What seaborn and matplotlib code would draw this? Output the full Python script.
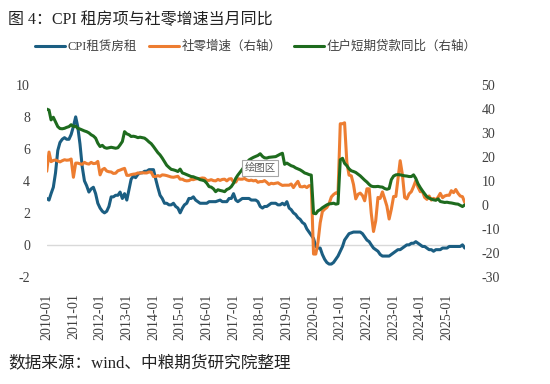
import matplotlib
matplotlib.use('Agg')
import matplotlib.pyplot as plt
import matplotlib.dates as mdates
from matplotlib.lines import Line2D
import seaborn as sns
import pandas as pd

# CPI 租赁房租 (left axis), monthly from 2010-01
rent = [
    2.9, 2.8, 3.2, 3.6, 4.5, 5.9, 6.4, 6.6, 6.7, 6.6, 6.6, 6.9,
    7.4, 8.0, 7.4, 6.3, 4.9, 4.0, 3.7, 3.3, 3.5, 3.6, 3.2, 2.6,
    2.3, 2.1, 2.0, 2.1, 2.4, 3.0, 3.0, 3.1, 3.1, 3.3, 2.9, 3.2,
    2.8, 3.5, 4.1, 4.3, 4.2, 4.4, 4.5, 4.5, 4.6, 4.6, 4.7, 4.7,
    4.7, 4.1, 3.6, 3.1, 2.9, 2.6, 2.6, 2.5, 2.5, 2.6, 2.4, 2.3,
    2.0, 2.3, 2.5, 2.6, 2.9, 2.9, 3.0, 2.8, 2.7, 2.6, 2.6, 2.6,
    2.6, 2.7, 2.7, 2.7, 2.7, 2.75, 2.8, 2.7, 2.7, 2.7, 2.9, 2.9,
    3.2, 2.8, 2.7, 2.8, 2.9, 2.9, 2.9, 2.9, 2.8, 2.8, 2.8, 2.7,
    2.4, 2.3, 2.4, 2.4, 2.5, 2.6, 2.6, 2.6, 2.5, 2.5, 2.6, 2.5,
    2.7, 2.3, 2.2, 2.0, 1.9, 1.7, 1.6, 1.4, 1.3, 1.0, 0.8, 0.6,
    0.4, -0.1, -0.2, -0.2, -0.6, -0.9, -1.1, -1.2, -1.2, -1.1, -0.9, -0.7,
    -0.4, -0.1, 0.3, 0.5, 0.7, 0.75, 0.8, 0.8, 0.8, 0.8, 0.7, 0.5,
    0.3, 0.2, 0.0, -0.2, -0.3, -0.4, -0.6, -0.7, -0.7, -0.7, -0.7, -0.6,
    -0.5, -0.4, -0.3, -0.3, -0.2, -0.1, 0.0, 0.0, 0.1, 0.1, 0.2, 0.1,
    0.0, -0.1, -0.1, -0.2, -0.3, -0.3, -0.4, -0.3, -0.3, -0.3, -0.2, -0.2,
    -0.2, -0.1, -0.1, -0.1, -0.1, -0.1, -0.1, 0.0, -0.2,
]

# 社零增速 (right axis)
retail = [
    14.0, 22.0, 18.0, 18.5, 18.7, 18.3, 17.9, 18.4, 18.8, 18.6, 18.7, 19.1,
    11.5, 17.4, 17.4, 17.1, 16.9, 17.7, 17.2, 17.0, 17.7, 17.2, 17.3, 18.1,
    12.5, 14.7, 15.2, 14.1, 13.8, 13.7, 13.1, 13.2, 14.2, 14.5, 14.9, 15.2,
    12.3, 12.3, 12.6, 12.8, 12.9, 13.3, 13.2, 13.4, 13.3, 13.3, 13.7, 13.6,
    11.8, 11.8, 12.2, 11.9, 12.5, 12.4, 12.2, 11.9, 11.6, 11.5, 11.7, 11.9,
    10.7, 10.7, 10.2, 10.0, 10.1, 10.6, 10.5, 10.8, 10.9, 11.0, 11.2, 11.1,
    10.2, 10.2, 10.5, 10.1, 10.0, 10.6, 10.2, 10.6, 10.7, 10.0, 10.8, 10.9,
    9.5, 9.5, 10.9, 10.7, 10.7, 11.0, 10.4, 10.1, 10.3, 10.0, 10.2, 9.4,
    9.7, 9.7, 10.1, 9.4, 8.5, 9.0, 8.8, 9.0, 9.2, 8.6, 8.1, 8.2,
    8.2, 8.2, 8.7, 7.2, 8.6, 9.8, 7.6, 7.5, 7.8, 7.2, 8.0, 8.0,
    -20.5, -20.5, -15.8, -7.5, -2.8, -1.8, -1.1, 0.5, 3.3, 4.3, 5.0, 4.6,
    33.8, 33.8, 34.2, 17.7, 12.4, 12.1, 8.5, 2.5, 4.4, 4.9, 3.9, 1.7,
    6.7, 6.7, -3.5, -11.1, -6.7, 3.1, 2.7, 5.4, 2.5, -0.5, -5.9, -1.8,
    3.5, 3.5, 10.6, 18.4, 12.7, 3.1, 2.5, 4.6, 5.5, 7.6, 10.1, 7.4,
    5.5, 5.5, 3.1, 2.3, 3.7, 2.0, 2.7, 2.1, 3.2, 4.8, 3.0, 3.7,
    4.0, 4.0, 5.9, 5.1, 6.4, 4.8, 3.7, 3.4, 1.0,
]

# 住户短期贷款同比 (right axis)
loan = [
    39.9, 39.5, 35.4, 36.5, 34.6, 32.6, 31.8, 31.7, 31.9, 32.3, 32.6, 33.4,
    32.6, 32.8, 31.9, 31.6, 31.2, 30.8, 30.5, 30.0, 29.2, 28.7, 27.8, 25.7,
    24.3, 24.8, 23.9, 23.6, 23.8, 24.0, 23.8, 23.6, 23.8, 25.0, 26.4, 30.5,
    29.6, 29.2, 28.5, 28.6, 28.4, 28.0, 28.2, 28.0, 27.8, 27.1, 26.2, 25.5,
    24.3, 23.0, 21.8, 20.8, 19.5, 18.0, 16.5, 15.6, 14.8, 14.6, 14.3, 13.9,
    14.9, 13.3, 13.0, 12.6, 12.2, 11.8, 11.7, 11.3, 11.0, 10.5, 10.3, 10.0,
    9.0, 7.6, 7.4, 6.7, 5.5, 6.3, 6.0, 5.8, 5.5, 6.4, 6.8, 7.6,
    9.0, 11.1, 12.4, 13.6, 14.8, 16.2, 17.5, 18.7, 19.3, 19.8, 20.2, 20.6,
    21.3, 20.2, 19.6, 19.5, 19.8, 19.9, 20.0, 20.1, 20.6, 21.1, 21.5, 16.9,
    17.4, 16.8, 16.3, 16.0, 15.4, 15.0, 14.6, 14.0, 13.3, 13.0, 12.6, 12.4,
    -3.5, -3.7, -2.5, -2.0, -1.2, -0.6, 0.0, 0.4, 0.5, 0.7, 0.3, 0.5,
    18.8, 19.4, 17.3, 16.3, 15.0, 14.2, 13.9, 13.5, 12.8, 12.1, 11.2, 10.3,
    9.5, 8.5, 7.8, 7.6, 7.6, 7.7, 7.5, 7.4, 6.8, 6.5, 6.8, 10.5,
    12.0, 12.5, 12.6, 12.5, 12.3, 12.1, 12.0, 11.8, 11.8, 12.5, 11.0, 8.8,
    7.2, 5.8, 4.6, 3.4, 2.8, 2.4, 2.1, 1.9, 2.5, 1.4, 1.2, 1.0,
    1.1, 0.9, 0.8, 0.6, 0.4, 0.3, -0.2, -0.7, 0.0,
]

labels = ['CPI租赁房租', '社零增速（右轴）', '住户短期贷款同比（右轴）']
colors = ['#1B5E82', '#ED7D31', '#1E6B1E']

dates = pd.date_range('2010-01-01', periods=len(rent), freq='MS')
df = pd.DataFrame({'date': dates, 'rent': rent, 'retail': retail, 'loan': loan})

sns.set_theme(style='white')
plt.rcParams['font.family'] = ['Liberation Serif', 'Noto Sans CJK SC']
plt.rcParams['axes.unicode_minus'] = False
txt = '#404040'

fig = plt.figure(figsize=(5.5, 3.84), dpi=100)
ax = fig.add_axes([0.085, 0.279, 0.76, 0.5])
ax.axhline(0, color='#d9d9d9', lw=1, zorder=0)
sns.lineplot(data=df, x='date', y='rent', ax=ax, color=colors[0], lw=2.2)

ax2 = ax.twinx()
sns.lineplot(data=df, x='date', y='retail', ax=ax2, color=colors[1], lw=2.2)
sns.lineplot(data=df, x='date', y='loan', ax=ax2, color=colors[2], lw=2.2)

ax.set_ylim(-2, 10)
ax.set_yticks(range(-2, 11, 2))
ax2.set_ylim(-30, 50)
ax2.set_yticks(range(-30, 51, 10))
ax.set_xlim(dates[0], dates[-1])
ax.set_xticks(pd.date_range('2010-01-01', '2025-01-01', freq='YS'))
ax.xaxis.set_major_formatter(mdates.DateFormatter('%Y-%m'))

for a in (ax, ax2):
    a.set_xlabel('')
    a.set_ylabel('')
    for s in a.spines.values():
        s.set_visible(False)
ax.tick_params(axis='x', rotation=90, length=0, pad=12, labelsize=10, colors=txt)
ax.tick_params(axis='y', length=0, pad=12, labelsize=10, colors=txt)
ax2.tick_params(axis='y', length=0, pad=12, labelsize=10, colors=txt)

handles = [Line2D([], [], color=c, lw=2.2) for c in colors]
fig.legend(handles, labels, loc='center', bbox_to_anchor=(0.465, 0.878), ncol=3,
           frameon=False, fontsize=9, handlelength=2.4, handletextpad=0.2,
           columnspacing=1.0, labelcolor=txt)

fig.text(0.015, 0.948, '图 4：CPI 租房项与社零增速当月同比', fontsize=11.5,
         ha='left', va='center', color='#222222')
fig.text(0.015, 0.055, '数据来源：wind、中粮期货研究院整理', fontsize=12,
         ha='left', va='center', color='#222222')
fig.text(0.473, 0.5625, '绘图区', fontsize=7.5, color='#595959', ha='center',
         va='center', zorder=10,
         bbox=dict(boxstyle='square,pad=0.25', fc='white', ec='#a6a6a6', lw=0.8))

fig.savefig('out.png', dpi=100)
